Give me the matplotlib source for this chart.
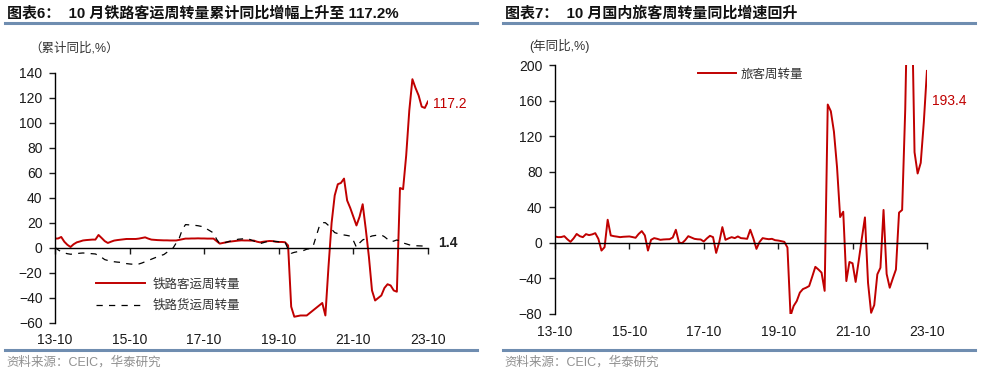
import matplotlib
matplotlib.use('Agg')

import matplotlib.pyplot as plt
import numpy as np

plt.rcParams['font.family'] = ['Liberation Sans', 'Noto Sans CJK SC', 'DejaVu Sans']

# months since 2013-10 (0 .. 120 -> 2013-10 .. 2023-10)
tick_pos = [0, 24, 48, 72, 96, 120]
tick_labels = ['13-10', '15-10', '17-10', '19-10', '21-10', '23-10']

# chart 6: railway cumulative yoy, %
rail_passenger = [
    7.5, 7.6, 8.8, 5, 2.5, 0.8, 3, 4.5, 5.2, 6, 6.3, 6.5, 6.7, 6.7, 10.4, 8, 5.5, 4, 5, 5.9,
    6.3, 6.6, 6.9, 7.2, 7.2, 7.2, 7.2, 7.5, 8, 8.5, 7.5, 6.7, 6.5, 6.3, 6.2, 6.1, 6.1, 6, 6, 6,
    6.5, 7, 7.5, 7.5, 7.6, 7.6, 7.7, 7.6, 7.6, 7.5, 7.5, 7.5, 5.5, 3.5, 4, 4.5, 5, 5.3, 5.6, 5.9,
    6.1, 6, 6, 5.9, 5.9, 5, 4.5, 5, 5.3, 5.6, 5.5, 5, 4.8, 4.8, 4.6, 2, -47, -55, -54.5, -54,
    -54, -54, -52, -50, -48, -46, -44, -54, -15, 20, 42, 51, 52, 55.5, 38, 32, 25, 18, 25, 35,
    15, -7, -34, -42, -40, -38, -32, -29, -30, -34, -35, 48, 47, 74, 110, 135, 128, 122, 113, 112,
    117.2,
]
rail_freight = [
    0.5, -1.5, -3, -4, -4.6, -5, -4.8, -4.5, -4.2, -4, -4.2, -4.4, -4.6, -4.8, -6, -7.5, -9.3, -10, -10.5, -11,
    -11.3, -11.5, -12, -12.5, -12.8, -13, -13.3, -12.8, -12, -11, -10, -9, -8, -7, -6, -5.3, -3.5, -1.8, 0, 4,
    8, 15, 18.7, 18.5, 18.2, 18.1, 17.8, 17.3, 16.8, 15, 13.5, 12, 7, 3.5, 4, 4.5, 5.2, 5.8, 6.4, 7,
    7.2, 7.4, 7.5, 6.5, 5.5, 4.5, 3.5, 4.2, 5, 5.6, 5.4, 5.2, 5, 4.9, 4.8, -1, -4.3, -3.5, -3, -2.5,
    -2, -1, -0.5, 1, 9, 17, 20.3, 20.2, 18, 15, 12.3, 11.5, 11, 10.4, 10, 9.5, 6, 0.5, 4, 6.4,
    7.5, 8.6, 9.6, 10, 10.3, 10.4, 9, 7, 5, 5.5, 6.4, 5.5, 4, 3.3, 2.5, 2, 1.8, 1.7, 1.6, 1.5,
    1.4,
]

# chart 7: passenger turnover yoy, %
pass_turnover = [
    7.2, 6.4, 6.5, 7.5, 4, 1.1, 5, 10, 7.5, 6.4, 9.8, 8.7, 9.5, 10.9, 4.5, -8.7, -4.9, 26, 8.3, 7.5,
    7, 6.4, 6.8, 7, 7.2, 6.5, 5.7, 10, 13.2, 8.3, -8.7, 3.4, 5.3, 4.5, 3.4, 3.8, 4, 4.1, 6, 14.7,
    0.5, -0.4, 3, 7.5, 6, 4.5, 4, 3.8, 1.5, 5, 7.9, 6.4, -11.3, 0.8, 17.7, 3.4, 5, 6.4, 5.3, 7.2,
    5.3, 5, 4.5, 14.7, 5, -6.8, 1, 5.3, 4.6, 4.1, 4.5, 3, 2.6, 1.9, 1.1, -5.3, -82, -71, -65.5, -56,
    -52, -50.5, -48.6, -38, -27, -30, -33.5, -54, 155.6, 148, 125, 85, 29, 35, -43, -21.5, -23, -44, -20, 5,
    28.6, -45, -78.7, -70, -35.4, -28, 37, -35, -50.5, -40, -30, 34, 37, 150, 330, 300, 102, 78, 90, 136,
    193.4,
]

red = '#C00000'
rule = '#6F8DB0'
months = np.arange(len(rail_passenger))

fig = plt.figure(figsize=(9.84, 3.76), dpi=100)


def style_axes(ax, ylim, yticks):
    ax.set_xlim(0, 120)
    ax.set_ylim(*ylim)
    ax.set_yticks(yticks)
    for s in ['top', 'right']:
        ax.spines[s].set_visible(False)
    ax.spines['bottom'].set_position(('data', 0))
    ax.spines['left'].set_linewidth(1)
    ax.spines['bottom'].set_linewidth(1)
    ax.set_xticks(tick_pos)
    ax.set_xticklabels(tick_labels)
    ax.tick_params(axis='y', direction='out', length=4, width=1, labelsize=10, pad=5, colors='#1a1a1a')
    ax.tick_params(axis='x', direction='out', length=4, width=1, labelsize=10, colors='#1a1a1a')


# --- chart 6 ---
ax1 = fig.add_axes([0.0559, 0.141, 0.379, 0.665])
ax1.plot(months, rail_passenger, color=red, lw=1.4, label='铁路客运周转量')
ax1.plot(months, rail_freight, color='black', lw=0.9, ls=(0, (5, 5)), label='铁路货运周转量')
style_axes(ax1, (-60, 140), np.arange(-60, 141, 20))
ax1.tick_params(axis='x', pad=57)
ax1.legend(loc='upper left', bbox_to_anchor=(0.11, 0.18), frameon=False, fontsize=9,
           handlelength=3.9, handletextpad=0.6, labelspacing=0.75, borderpad=0, borderaxespad=0,
           labelcolor='#333333')
ax1.annotate(f'{rail_passenger[-1]:.1f}', (months[-1], rail_passenger[-1]), xytext=(4, -2),
             textcoords='offset points', color=red, fontsize=10, va='center', ha='left')
ax1.annotate(f'{rail_freight[-1]:.1f}', (months[-1], rail_freight[-1]), xytext=(7, 2),
             textcoords='offset points', color='#222222', fontsize=10, fontweight='bold',
             va='center', ha='left')

# --- chart 7 ---
ax2 = fig.add_axes([0.564, 0.165, 0.378, 0.662])
ax2.plot(months, pass_turnover, color=red, lw=1.4, label='旅客周转量')
style_axes(ax2, (-80, 200), np.arange(-80, 201, 40))
ax2.tick_params(axis='x', pad=55)
ax2.legend(loc='upper left', bbox_to_anchor=(0.385, 0.985), frameon=False, fontsize=9,
           handlelength=3.0, handletextpad=0.4, borderpad=0, borderaxespad=0,
           labelcolor='#333333')
ax2.annotate(f'{pass_turnover[-1]:.1f}', (months[-1], 160), xytext=(4, 0),
             textcoords='offset points', color=red, fontsize=10, va='center', ha='left')

# titles, rules, units, sources
fig.text(0.007, 0.965, '图表6：  10 月铁路客运周转量累计同比增幅上升至 117.2%', fontsize=10.8,
         fontweight='bold', va='center', ha='left', color='#111111')
fig.text(0.513, 0.965, '图表7：  10 月国内旅客周转量同比增速回升', fontsize=10.8,
         fontweight='bold', va='center', ha='left', color='#111111')
for x0, x1 in [(0.005, 0.485), (0.511, 0.991)]:
    fig.add_artist(plt.Line2D([x0, x1], [0.94, 0.94], color=rule, lw=2.2))
    fig.add_artist(plt.Line2D([x0, x1], [0.069, 0.069], color=rule, lw=2.2))

fig.text(0.03, 0.872, '（累计同比,%）', fontsize=9, va='center', ha='left', color='#333333')
fig.text(0.538, 0.878, '(年同比,%)', fontsize=9, va='center', ha='left', color='#333333')

fig.text(0.007, 0.037, '资料来源：CEIC，华泰研究', fontsize=9, va='center', ha='left', color='#909090')
fig.text(0.513, 0.037, '资料来源：CEIC，华泰研究', fontsize=9, va='center', ha='left', color='#909090')

fig.savefig('out.png', dpi=100)
